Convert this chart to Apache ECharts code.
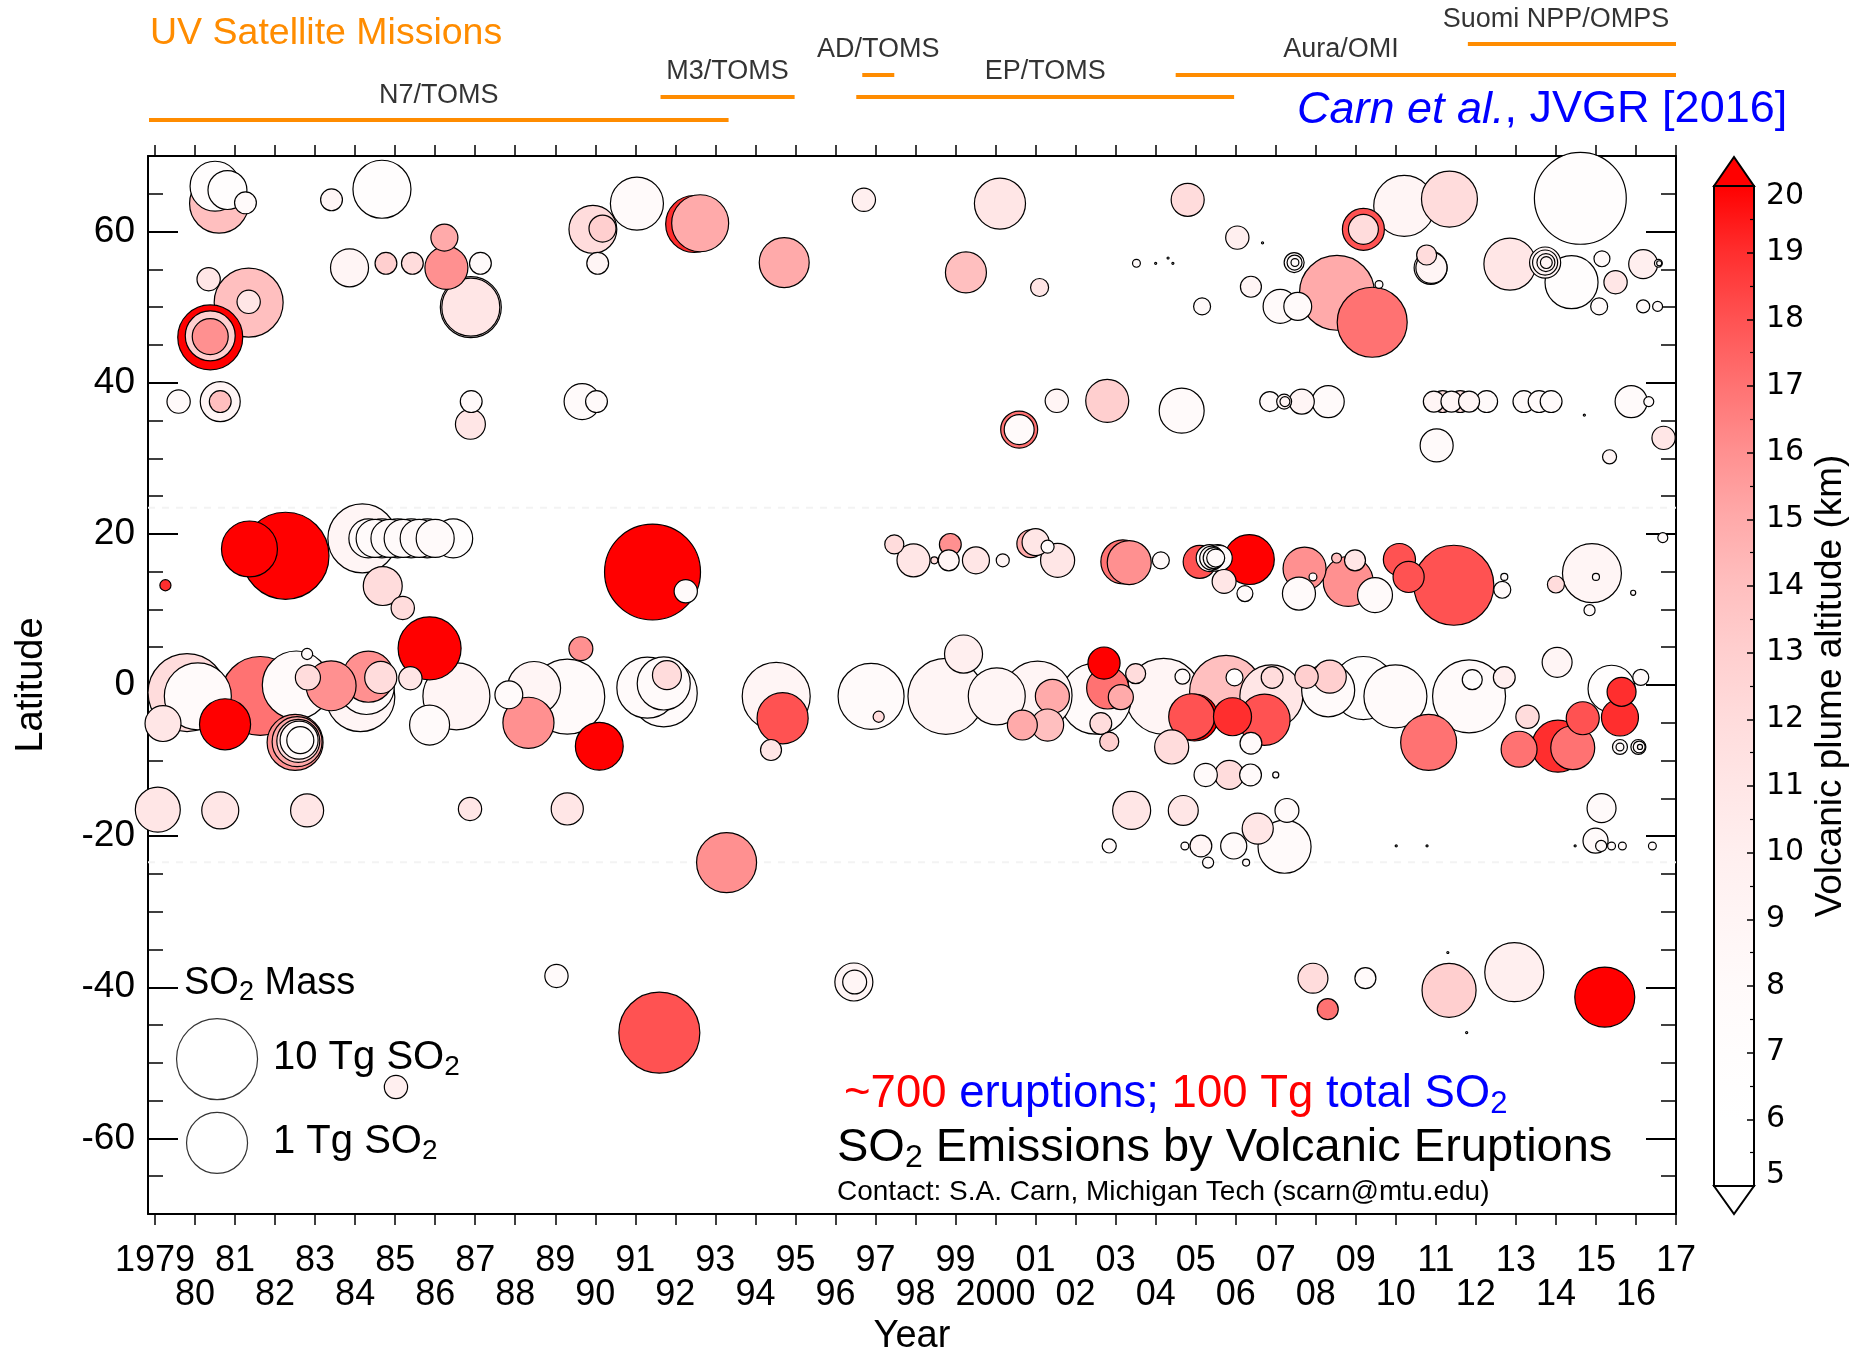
<!DOCTYPE html>
<html>
<head>
<meta charset="utf-8">
<title>SO2 Emissions by Volcanic Eruptions</title>
<script src="https://cdn.jsdelivr.net/npm/echarts@6/dist/echarts.min.js"></script>
<style>
html,body{margin:0;padding:0;background:#ffffff;}
#chart{width:1866px;height:1349px;}
</style>
</head>
<body>
<div id="chart"></div>
<script>
// ---------------- DATA ----------------
// each eruption: [year, latitude (deg), SO2 mass (Tg), plume altitude (km)]
const highLatNorth = [
  [1980.50, 66.0, 0.28, 7], [1980.60, 63.7, 0.79, 14], [1980.81, 65.5, 0.079, 7], [1981.26, 63.8, 0.011, 8],
  [1983.41, 64.2, 0.011, 9], [1984.67, 65.6, 0.71, 7], [1989.94, 60.3, 0.22, 12], [1990.18, 60.4, 0.020, 13],
  [1991.04, 63.7, 0.40, 8], [1992.47, 61.0, 0.63, 19], [1992.62, 61.1, 0.63, 15], [1990.06, 55.8, 0.011, 9],
  [1983.86, 55.2, 0.071, 9], [1984.77, 55.8, 0.011, 13], [1985.43, 55.8, 0.011, 12], [1986.23, 59.2, 0.020, 15],
  [1986.28, 55.2, 0.126, 16], [1987.13, 55.8, 0.011, 8], [1986.89, 50.0, 1.00, 10], [1986.89, 50.0, 0.71, 11],
  [1980.34, 53.7, 0.013, 11], [1981.34, 50.6, 2.50, 14], [1981.34, 50.7, 0.013, 11], [1980.38, 46.0, 1.58, 20],
  [1980.38, 46.2, 0.28, 13], [1980.38, 46.1, 0.056, 16], [1979.59, 37.5, 0.013, 8], [1980.63, 37.5, 0.089, 9],
  [1980.63, 37.5, 0.011, 14], [1986.90, 37.5, 0.011, 8], [1986.88, 34.5, 0.028, 11], [1989.67, 37.5, 0.056, 8],
  [1990.03, 37.5, 0.011, 8],
  [1994.72, 55.9, 0.28, 15], [1996.71, 64.2, 0.013, 10], [2000.11, 63.7, 0.32, 11], [1999.26, 54.6, 0.10, 14],
  [2001.10, 52.6, 0.0071, 11], [2004.80, 64.2, 0.040, 12], [2006.04, 59.2, 0.013, 10], [2006.67, 58.5, 0.0011, 8],
  [2003.52, 55.8, 0.0022, 8], [2004.00, 55.8, 0.0011, 8], [2004.31, 56.5, 0.0011, 8], [2004.43, 55.8, 0.0011, 8],
  [2009.19, 60.3, 0.112, 18], [2009.19, 60.3, 0.028, 12], [2010.21, 63.4, 1.00, 9], [2011.34, 64.3, 0.56, 12],
  [2014.61, 64.4, 35.0, 7], [2012.85, 55.7, 0.355, 11], [2013.73, 55.9, 0.032, 9], [2013.73, 55.9, 0.016, 9],
  [2013.75, 55.9, 0.0071, 9], [2013.76, 55.9, 0.0035, 9], [2014.39, 53.3, 0.40, 7], [2015.15, 56.4, 0.0056, 8],
  [2015.49, 53.3, 0.013, 11], [2015.08, 50.1, 0.0063, 8], [2016.18, 55.7, 0.025, 10], [2016.56, 55.8, 0.0022, 8],
  [2016.58, 55.8, 0.0016, 8], [2016.18, 50.1, 0.0040, 8], [2016.54, 50.1, 0.0028, 8], [2010.77, 56.9, 0.0089, 12],
  [2010.87, 55.2, 0.040, 9], [2010.89, 55.2, 0.032, 9], [2007.46, 55.9, 0.0089, 8], [2007.47, 55.9, 0.0050, 8],
  [2007.48, 55.9, 0.0022, 8], [2008.53, 51.9, 5.0, 15], [2009.41, 48.0, 2.82, 17], [2009.58, 53.0, 0.0022, 8],
  [2007.11, 50.1, 0.045, 8], [2007.55, 50.1, 0.022, 8], [2006.38, 52.7, 0.010, 9], [2005.16, 50.1, 0.0063, 8],
  [2001.53, 37.6, 0.013, 9], [2002.79, 37.6, 0.126, 13], [2004.65, 36.3, 0.158, 8], [2000.59, 33.8, 0.063, 17],
  [2000.59, 33.8, 0.028, 8], [2006.85, 37.5, 0.0089, 8], [2007.21, 37.5, 0.0050, 9], [2007.23, 37.5, 0.0028, 9],
  [2007.65, 37.5, 0.016, 9], [2008.31, 37.5, 0.036, 8], [2011.02, 31.7, 0.040, 8], [2010.95, 37.5, 0.010, 9],
  [2011.17, 37.5, 0.011, 12], [2011.39, 37.5, 0.010, 9], [2011.61, 37.5, 0.011, 12], [2011.83, 37.5, 0.010, 9],
  [2012.27, 37.5, 0.011, 8], [2013.20, 37.5, 0.011, 8], [2013.58, 37.5, 0.011, 8], [2013.88, 37.5, 0.011, 8],
  [2015.88, 37.5, 0.036, 8], [2016.32, 37.5, 0.0028, 8], [2014.71, 35.7, 0.0011, 8], [2016.69, 32.7, 0.013, 11],
  [2015.34, 30.2, 0.0045, 9]
];
const tropicsNorth = [
  [1981.36, 18.0, 0.56, 20], [1982.26, 17.1, 20.0, 22], [1984.18, 19.4, 2.5, 9],
  [1984.33, 19.4, 0.079, 8], [1984.50, 19.4, 0.071, 8], [1984.67, 19.4, 0.079, 8], [1984.87, 19.4, 0.071, 8],
  [1985.06, 19.4, 0.079, 8], [1985.20, 19.4, 0.071, 8], [1985.40, 19.4, 0.079, 8], [1985.60, 19.4, 0.071, 8],
  [1985.80, 19.4, 0.079, 8], [1986.00, 19.4, 0.071, 8], [1986.45, 19.4, 0.079, 7],
  [1984.69, 13.1, 0.079, 12], [1985.19, 10.2, 0.013, 12], [1985.86, 4.85, 1.26, 20], [1979.26, 13.2, 0.0032, 19],
  [1991.43, 14.95, 56.0, 25], [1992.26, 12.4, 0.013, 8],
  [1997.47, 18.6, 0.0080, 12], [1997.95, 16.5, 0.040, 11], [1998.47, 16.5, 0.0020, 12], [1998.83, 16.5, 0.010, 9],
  [1998.87, 18.6, 0.011, 16], [1999.51, 16.5, 0.020, 11], [2000.18, 16.5, 0.0040, 9], [2000.88, 18.7, 0.022, 15],
  [2001.00, 18.9, 0.020, 11], [2001.30, 18.3, 0.0040, 8], [2001.55, 16.5, 0.045, 11], [2003.18, 16.3, 0.141, 17],
  [2003.34, 16.2, 0.141, 16], [2004.13, 16.5, 0.0063, 8], [2005.10, 16.3, 0.040, 18],
  [2005.35, 16.8, 0.020, 8], [2005.40, 16.8, 0.014, 8], [2005.45, 16.8, 0.010, 8], [2005.50, 16.8, 0.0071, 8],
  [2005.55, 16.8, 0.020, 8], [2005.60, 16.8, 0.016, 8],
  [2006.34, 16.6, 0.28, 20], [2005.71, 13.7, 0.014, 11], [2006.23, 12.1, 0.0056, 8], [2007.72, 15.4, 0.126, 16],
  [2007.93, 14.3, 0.0022, 8], [2007.58, 12.1, 0.040, 8], [2008.52, 16.8, 0.0028, 14], [2008.98, 16.5, 0.010, 11],
  [2008.81, 13.7, 0.28, 16], [2009.48, 11.9, 0.050, 8], [2010.09, 16.6, 0.036, 18], [2010.32, 14.3, 0.032, 18],
  [2011.45, 13.2, 8.9, 18], [2012.71, 14.3, 0.0020, 8], [2012.66, 12.6, 0.0063, 8], [2014.00, 13.3, 0.0063, 12],
  [2014.90, 14.8, 0.79, 9], [2015.00, 14.3, 0.0020, 8], [2014.84, 9.9, 0.0032, 8], [2015.93, 12.2, 0.0016, 8],
  [2016.67, 19.5, 0.0028, 8]
];
const equatorBand = [
  [1979.80, -1.0, 7.1, 12], [1980.07, -1.5, 2.0, 8], [1979.20, -5.1, 0.056, 11], [1980.75, -5.2, 0.32, 20],
  [1981.63, -1.45, 7.9, 17], [1982.53, 0.0, 2.24, 8], [1982.80, 4.1, 0.0032, 8], [1982.82, 1.0, 0.016, 12],
  [1982.50, -7.6, 0.56, 16], [1982.55, -7.5, 0.28, 15], [1982.58, -7.4, 0.126, 12], [1982.60, -7.3, 0.071, 8],
  [1982.63, -7.3, 0.020, 7],
  [1983.40, -0.1, 0.28, 16], [1984.13, -1.6, 2.5, 9], [1984.28, -0.2, 0.56, 8], [1984.33, 1.1, 0.32, 16],
  [1984.64, 1.0, 0.036, 12], [1985.38, 0.9, 0.013, 11], [1985.86, -5.3, 0.089, 8], [1986.53, -1.5, 2.0, 9],
  [1987.84, -1.3, 0.022, 8], [1988.47, -0.4, 0.40, 9], [1988.33, -5.0, 0.32, 16], [1989.30, -1.55, 5.0, 8],
  [1989.64, 4.8, 0.014, 16], [1990.10, -8.1, 0.22, 20], [1991.30, -0.35, 1.0, 8], [1991.71, -1.1, 2.0, 8],
  [1991.71, 0.2, 0.40, 8], [1991.79, 1.3, 0.025, 12],
  [1994.52, -1.5, 2.24, 9], [1994.68, -4.4, 0.32, 18], [1994.39, -8.6, 0.010, 11], [1996.89, -1.5, 1.78, 8],
  [1997.08, -4.2, 0.0032, 12], [1998.76, -1.5, 5.6, 9], [1999.20, 4.1, 0.071, 10], [2000.03, -1.5, 0.63, 9],
  [2001.05, -1.4, 2.5, 9], [2000.67, -5.3, 0.028, 15], [2001.42, -1.5, 0.045, 15], [2001.30, -5.3, 0.036, 14],
  [2002.50, -1.8, 3.16, 8], [2002.71, 2.9, 0.036, 20], [2002.80, -0.4, 0.112, 17], [2003.13, -1.6, 0.016, 15],
  [2002.63, -5.1, 0.011, 12], [2002.84, -7.5, 0.0080, 13], [2004.20, -1.5, 5.6, 9], [2003.50, 1.5, 0.0089, 12],
  [2004.40, -8.2, 0.045, 12], [2004.90, -4.2, 0.178, 18], [2004.97, -4.3, 0.20, 20], [2004.67, 1.1, 0.0050, 8],
  [2005.76, -0.9, 3.98, 14], [2005.97, 1.0, 0.0063, 7], [2005.92, -4.2, 0.071, 19], [2006.72, -4.6, 0.32, 18],
  [2006.38, -7.7, 0.011, 8], [2006.89, -1.5, 1.26, 11], [2006.91, 1.0, 0.011, 12], [2007.77, 1.1, 0.013, 13],
  [2008.31, -0.7, 0.40, 8], [2008.35, 1.1, 0.040, 13], [2009.19, -0.4, 1.26, 7], [2009.99, -1.5, 1.26, 8],
  [2010.82, -7.6, 0.56, 17], [2011.83, -1.5, 3.98, 8], [2011.91, 0.7, 0.0089, 7], [2012.71, 1.0, 0.011, 10],
  [2013.29, -4.2, 0.013, 12], [2013.08, -8.5, 0.056, 17], [2014.05, -8.1, 0.355, 19], [2014.42, -8.3, 0.141, 17],
  [2014.67, -4.4, 0.040, 18], [2014.03, 3.0, 0.028, 9], [2015.39, -0.5, 0.20, 7], [2015.64, -0.9, 0.025, 19],
  [2015.60, -4.3, 0.063, 19], [2016.12, 1.0, 0.0056, 8],
  [2015.60, -8.2, 0.0050, 8], [2015.60, -8.2, 0.0022, 8], [2016.06, -8.2, 0.0050, 8], [2016.08, -8.2, 0.0035, 8],
  [2016.10, -8.2, 0.0016, 8],
  [2005.25, -11.9, 0.013, 8], [2005.84, -11.9, 0.025, 12], [2006.37, -11.9, 0.011, 8], [2007.00, -11.9, 0.0018, 8]
];
const southern = [
  [1979.07, -16.5, 0.158, 11], [1980.63, -16.6, 0.063, 11], [1982.80, -16.6, 0.040, 11], [1986.87, -16.4, 0.013, 11],
  [1989.30, -16.4, 0.036, 11], [1993.28, -23.5, 0.89, 16], [2003.40, -16.6, 0.071, 11], [2004.69, -16.6, 0.028, 11],
  [2002.84, -21.3, 0.0045, 8], [2005.13, -21.3, 0.011, 9], [2004.73, -21.3, 0.0022, 8], [2005.31, -23.5, 0.0032, 8],
  [2007.28, -16.6, 0.014, 8], [2006.55, -19.0, 0.032, 11], [2007.22, -21.4, 0.40, 8], [2005.95, -21.3, 0.018, 8],
  [2006.26, -23.5, 0.0020, 8], [2010.01, -21.3, 0.0011, 8], [2010.78, -21.3, 0.0011, 8], [2014.48, -21.3, 0.0011, 8],
  [2015.14, -16.3, 0.025, 8], [2014.99, -20.6, 0.016, 8], [2015.13, -21.3, 0.0032, 8], [2015.39, -21.3, 0.0022, 8],
  [2015.66, -21.3, 0.0022, 8], [2016.41, -21.3, 0.0022, 8],
  [1989.03, -38.5, 0.013, 8], [1991.60, -46.0, 10.0, 18], [1985.02, -53.2, 0.013, 10], [1996.46, -39.3, 0.071, 9],
  [1996.48, -39.3, 0.014, 9], [2007.93, -38.8, 0.028, 12], [2008.30, -42.9, 0.010, 17], [2009.24, -38.8, 0.010, 8],
  [2011.33, -40.4, 0.45, 13], [2012.96, -38.0, 0.80, 10], [2015.22, -41.3, 0.89, 20], [2011.30, -35.4, 0.0011, 8],
  [2011.77, -46.0, 0.0011, 8]
];
// satellite missions: [name, start year, end year]
const missions = [
  ['N7/TOMS', 1978.85, 1993.33],
  ['M3/TOMS', 1991.63, 1994.98],
  ['AD/TOMS', 1996.67, 1997.47],
  ['EP/TOMS', 1996.52, 2005.96],
  ['Aura/OMI', 2004.50, 2017.00],
  ['Suomi NPP/OMPS', 2011.80, 2017.00]
];
const tickYears = [1979,1980,1981,1982,1983,1984,1985,1986,1987,1988,1989,1990,1991,1992,1993,1994,1995,1996,1997,1998,
  1999,2000,2001,2002,2003,2004,2005,2006,2007,2008,2009,2010,2011,2012,2013,2014,2015,2016,2017];
const tickLabels = ['1979','80','81','82','83','84','85','86','87','88','89','90','91','92','93','94','95','96','97','98',
  '99','2000','01','02','03','04','05','06','07','08','09','10','11','12','13','14','15','16','17'];
const latTicks = [-60, -40, -20, 0, 20, 40, 60];
const altRange = [5, 20];
const tropics = [23.44, -23.44];
const legendMasses = [10, 1];
const legendLabels = ['10 Tg SO{s|2}', '1 Tg SO{s|2}'];

// ---------------- STYLE / LAYOUT ----------------
const FONT = "'Liberation Sans', Arial, Helvetica, sans-serif";
const X_MIN = 1978.825, X_MAX = 2017;
const altColors = ['#ffffff','#ffffff','#fffdfd','#fffafa','#fff5f5','#ffefef','#ffe6e6','#ffdcdc',
                   '#ffcfcf','#ffbfbf','#ffaaaa','#ff9090','#ff7272','#ff5252','#ff2e2e','#ff0000'];
const missionLineY = [120, 97, 75, 97, 75, 44];
const missionLabelY = [96, 72, 50, 72, 50, 20];
const missionLabelAt = [null, null, null, null, 2008.63, 2014.0];
const legendLat = [-49.5, -60.6];
const legendYear = 1980.55;

const oddYears = tickYears.filter(y => y % 2 === 1);
const evenYears = tickYears.filter(y => y % 2 === 0);
const yearLabel = v => { const i = tickYears.indexOf(Math.round(v)); return i < 0 ? '' : tickLabels[i]; };

const massToSize = m => Math.max(2, 61 + 20 * Math.log10(m));

const eruptions = [].concat(highLatNorth, tropicsNorth, equatorBand, southern)
  .map(r => [r[0], r[1], r[2], Math.min(altRange[1], Math.max(altRange[0], r[3]))])
  .sort((a, b) => b[2] - a[2]);

const chart = echarts.init(document.getElementById('chart'), null, {renderer: 'canvas'});

const series = [];
tropics.forEach(lat => series.push({
  type: 'line', xAxisIndex: 0, yAxisIndex: 0, data: [[X_MIN, lat], [X_MAX, lat]],
  symbol: 'none', silent: true, z: 1, lineStyle: {color: '#f3f3f3', width: 2, type: [7, 7]}
}));
const bubbleIndex = series.length;
series.push({
  type: 'scatter', name: 'eruptions', xAxisIndex: 0, yAxisIndex: 0, data: eruptions,
  symbolSize: v => massToSize(v[2]), clip: false, z: 3, silent: true,
  itemStyle: {borderColor: '#000', borderWidth: 1.2, opacity: 1}
});
series.push({
  type: 'scatter', xAxisIndex: 0, yAxisIndex: 0, clip: false, z: 3, silent: true,
  data: legendMasses.map((m, i) => [legendYear, legendLat[i], m]),
  symbolSize: v => massToSize(v[2]),
  itemStyle: {color: '#ffffff', borderColor: '#000', borderWidth: 1.2}
});
missions.forEach((ms, i) => series.push({
  type: 'line', xAxisIndex: 3, yAxisIndex: 5, silent: true, symbol: 'none', z: 2,
  data: [[ms[1], missionLineY[i]], [ms[2], missionLineY[i]]],
  lineStyle: {color: '#ff8c00', width: 4, cap: 'butt'}
}));
series.push({
  type: 'scatter', xAxisIndex: 3, yAxisIndex: 5, silent: true, symbolSize: 1, clip: false,
  itemStyle: {color: 'rgba(0,0,0,0)'},
  data: missions.map((ms, i) => ({name: ms[0], value: [missionLabelAt[i] != null ? missionLabelAt[i] : (ms[1] + ms[2]) / 2, missionLabelY[i]]})),
  label: {show: true, position: 'inside', formatter: p => p.name, color: '#000', fontSize: 27, fontFamily: FONT}
});

const gradStops = altColors.map((c, i) => ({offset: 1 - i / (altColors.length - 1), color: c})).reverse();

const blackAxis = {color: '#000', width: 2};
const sub = (fs, lh) => ({fontSize: fs, lineHeight: lh, verticalAlign: 'bottom', fontFamily: FONT});
const yearLabelStyle = {color: '#000', fontSize: 36, lineHeight: 34, fontFamily: FONT,
  showMinLabel: true, showMaxLabel: true, hideOverlap: false, formatter: yearLabel};

const option = {
  animation: false,
  backgroundColor: '#ffffff',
  textStyle: {fontFamily: FONT},
  grid: [
    {left: 148, right: 1866 - 1676, top: 156, height: 1058, outerBoundsMode: 'none', containLabel: false},
    {left: 1714, width: 40, top: 186, height: 1000, outerBoundsMode: 'none', containLabel: false},
    {left: 148, right: 1866 - 1676, top: 0, height: 156, outerBoundsMode: 'none', containLabel: false}
  ],
  xAxis: [
    {gridIndex: 0, type: 'value', min: X_MIN, max: X_MAX, position: 'bottom', offset: 0,
     axisLine: {show: true, onZero: false, lineStyle: blackAxis},
     axisTick: {show: true, inside: false, length: 11, customValues: tickYears, lineStyle: {color: '#000', width: 1.5}},
     axisLabel: Object.assign({show: true, customValues: oddYears, margin: 30}, yearLabelStyle),
     splitLine: {show: false},
     name: 'Year', nameLocation: 'middle', nameGap: 104,
     nameTextStyle: {color: '#000', fontSize: 38, fontFamily: FONT}},
    {gridIndex: 0, type: 'value', min: X_MIN, max: X_MAX, position: 'top', offset: 0,
     axisLine: {show: true, onZero: false, lineStyle: blackAxis},
     axisTick: {show: true, inside: false, length: 11, customValues: tickYears, lineStyle: {color: '#000', width: 1.5}},
     axisLabel: {show: false}, splitLine: {show: false}},
    {gridIndex: 1, type: 'value', min: 0, max: 1, show: false},
    {gridIndex: 2, type: 'value', min: X_MIN, max: X_MAX, show: false},
    {gridIndex: 0, type: 'value', min: X_MIN, max: X_MAX, position: 'bottom', offset: 0,
     axisLine: {show: false, onZero: false}, axisTick: {show: false},
     axisLabel: Object.assign({show: true, customValues: evenYears, margin: 64}, yearLabelStyle),
     splitLine: {show: false}}
  ],
  yAxis: [
    {gridIndex: 0, type: 'value', min: -70, max: 70, position: 'left', offset: 0,
     axisLine: {show: true, onZero: false, lineStyle: blackAxis},
     axisTick: {show: true, inside: true, length: 30, customValues: latTicks, lineStyle: {color: '#000', width: 2}},
     axisLabel: {show: true, customValues: latTicks, margin: 13, color: '#000', fontSize: 37, fontFamily: FONT},
     splitLine: {show: false},
     name: 'Latitude', nameLocation: 'middle', nameGap: 97,
     nameTextStyle: {color: '#000', fontSize: 38, fontFamily: FONT}},
    {gridIndex: 0, type: 'value', min: -70, max: 70, interval: 5, position: 'left', offset: 0,
     axisLine: {show: false, onZero: false}, axisTick: {show: true, inside: true, length: 15, lineStyle: {color: '#000', width: 1.5}},
     axisLabel: {show: false}, splitLine: {show: false}},
    {gridIndex: 0, type: 'value', min: -70, max: 70, position: 'right', offset: 0,
     axisLine: {show: true, onZero: false, lineStyle: blackAxis},
     axisTick: {show: true, inside: true, length: 30, customValues: latTicks, lineStyle: {color: '#000', width: 2}},
     axisLabel: {show: false}, splitLine: {show: false}},
    {gridIndex: 0, type: 'value', min: -70, max: 70, interval: 5, position: 'right', offset: 0,
     axisLine: {show: false, onZero: false}, axisTick: {show: true, inside: true, length: 15, lineStyle: {color: '#000', width: 1.5}},
     axisLabel: {show: false}, splitLine: {show: false}},
    {gridIndex: 1, type: 'value', min: altRange[0], max: altRange[1], interval: 1, position: 'right', offset: 0, z: 50,
     axisLine: {show: false, onZero: false},
     axisTick: {show: true, inside: true, length: 7, lineStyle: {color: '#000', width: 1.5}},
     minorTick: {show: true, splitNumber: 2, length: 4, lineStyle: {color: '#000', width: 1.2}},
     axisLabel: {show: true, margin: 12, color: '#000', fontSize: 30, fontFamily: "'DejaVu Sans', sans-serif",
       showMinLabel: true, showMaxLabel: true,
       formatter: v => v === altRange[1] ? '{hi|' + v + '}' : (v === altRange[0] ? '{lo|' + v + '}' : String(v)),
       rich: {hi: {padding: [20, 0, 0, 0], fontSize: 30, fontFamily: "'DejaVu Sans', sans-serif", color: '#000'},
              lo: {padding: [0, 0, 22, 0], fontSize: 30, fontFamily: "'DejaVu Sans', sans-serif", color: '#000'}}},
     splitLine: {show: false},
     name: 'Volcanic plume altitude (km)', nameLocation: 'middle', nameGap: 58, nameRotate: 90,
     nameTextStyle: {color: '#000', fontSize: 37, fontFamily: FONT}},
    {gridIndex: 2, type: 'value', min: 0, max: 156, inverse: true, show: false}
  ],
  visualMap: {
    type: 'continuous', show: false, min: altRange[0], max: altRange[1], dimension: 3,
    seriesIndex: bubbleIndex, inRange: {color: altColors}
  },
  series: series,
  graphic: [
    {type: 'rect', z: 1, shape: {x: 1714, y: 186, width: 40, height: 1000},
     style: {fill: {type: 'linear', x: 0, y: 0, x2: 0, y2: 1, colorStops: gradStops}, stroke: '#000', lineWidth: 2}},
    {type: 'polygon', z: 1, shape: {points: [[1714, 186], [1734, 157], [1754, 186]]}, style: {fill: '#ff0000', stroke: '#000', lineWidth: 2}},
    {type: 'polygon', z: 1, shape: {points: [[1714, 1186], [1734, 1214], [1754, 1186]]}, style: {fill: '#ffffff', stroke: '#000', lineWidth: 2}},
    {type: 'text', x: 150, y: 34, style: {text: 'UV Satellite Missions', fill: '#ff8c00', fontSize: 37.5, fontFamily: FONT, verticalAlign: 'middle'}},
    {type: 'text', x: 1297, y: 110, style: {text: '{i|Carn et al.}, JVGR [2016]', fill: '#0000ff', fontSize: 45, fontFamily: FONT, verticalAlign: 'middle',
      rich: {i: {fontStyle: 'italic', fontSize: 45, fontFamily: FONT, fill: '#0000ff', color: '#0000ff'}}}},
    {type: 'text', x: 184, y: 984, style: {text: 'SO{s|2} Mass', fill: '#000', fontSize: 38, lineHeight: 44, fontFamily: FONT, verticalAlign: 'middle',
      rich: {s: sub(27, 20)}}},
    {type: 'text', x: 273, y: 1058, style: {text: legendLabels[0], fill: '#000', fontSize: 40, lineHeight: 46, fontFamily: FONT, verticalAlign: 'middle',
      rich: {s: sub(28, 20)}}},
    {type: 'text', x: 273, y: 1142, style: {text: legendLabels[1], fill: '#000', fontSize: 40, lineHeight: 46, fontFamily: FONT, verticalAlign: 'middle',
      rich: {s: sub(28, 20)}}},
    {type: 'text', x: 844, y: 1094, style: {
      text: '{r|~700} {b|eruptions;} {r|100 Tg} {b|total SO}{bs|2}', fontSize: 45.5, lineHeight: 52, fontFamily: FONT, verticalAlign: 'middle',
      rich: {r: {fill: '#ff0000', color: '#ff0000', fontSize: 45.5, lineHeight: 52, fontFamily: FONT},
             b: {fill: '#0000ff', color: '#0000ff', fontSize: 45.5, lineHeight: 52, fontFamily: FONT},
             bs: {fill: '#0000ff', color: '#0000ff', fontSize: 31, lineHeight: 20, verticalAlign: 'bottom', fontFamily: FONT}}}},
    {type: 'text', x: 837, y: 1148, style: {text: 'SO{s|2} Emissions by Volcanic Eruptions', fill: '#000', fontSize: 47, lineHeight: 52, fontFamily: FONT, verticalAlign: 'middle',
      rich: {s: sub(32, 20)}}},
    {type: 'text', x: 837, y: 1192, style: {text: 'Contact: S.A. Carn, Michigan Tech (scarn@mtu.edu)', fill: '#000', fontSize: 28, fontFamily: FONT, verticalAlign: 'middle'}}
  ]
};
chart.setOption(option);
</script>
</body>
</html>
